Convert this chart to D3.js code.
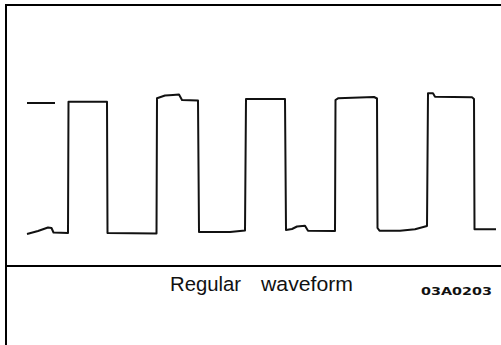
<!DOCTYPE html>
<html>
<head>
<meta charset="utf-8">
<script src="https://cdn.jsdelivr.net/npm/d3@7"></script>
<style>
    html, body { margin: 0; padding: 0; background: #fff; }
    #chart { width: 501px; height: 345px; }
</style>
</head>
<body>
<div id="chart"></div>
<script>
let markerTime = [0.1, 2.9];
let markerLevel = [13.0, 13.0];

let waveTime = [0.1, 1.2, 2.2, 2.55, 2.75, 4.2, 4.25, 8.1, 8.15, 13.05, 13.1, 13.9, 14.7, 15.3, 15.6, 17.2, 17.3, 20.4, 21.9, 22.0,
    25.9, 26.0, 26.6, 27.1, 27.9, 28.2, 30.9, 30.95, 31.2, 34.8, 35.1, 35.15, 35.35, 37.4, 38.9, 40.1, 40.2, 40.7, 40.9, 44.6,
    44.8, 44.85, 47.0];
let waveLevel = [-0.1, 0.2, 0.55, 0.5, 0.05, 0.0, 13.13, 13.13, 0.0, -0.05, 13.47, 13.75, 13.8, 13.85, 13.3, 13.25, 0.1, 0.1, 0.25, 13.4,
    13.4, 0.3, 0.4, 0.65, 0.73, 0.23, 0.2, 13.3, 13.47, 13.6, 13.45, 0.5, 0.23, 0.23, 0.37, 0.7, 13.97, 13.97, 13.63, 13.57,
    13.4, 0.37, 0.37];

let caption = ['Regular', 'waveform'];
let figureCode = '03A0203';

//Tamaño
let width = 501, height = 345;

let svg = d3.select('#chart')
    .append('svg')
        .attr('width', width)
        .attr('height', height);

let x = d3.scaleLinear()
    .domain([0, 47])
    .range([26, 496]);

let y = d3.scaleLinear()
    .domain([0, 13.5])
    .range([233, 98]);

//Marco
svg.append('line')
    .attr('x1', 5).attr('x2', width)
    .attr('y1', 5).attr('y2', 5)
    .attr('stroke', '#000').attr('stroke-width', 2);

svg.append('line')
    .attr('x1', 6).attr('x2', 6)
    .attr('y1', 4).attr('y2', height)
    .attr('stroke', '#000').attr('stroke-width', 2);

svg.append('line')
    .attr('x1', 6).attr('x2', width)
    .attr('y1', 266).attr('y2', 266)
    .attr('stroke', '#000').attr('stroke-width', 2);

//Trazo
let line = d3.line()
    .x(function(d) { return x(d[0]); })
    .y(function(d) { return y(d[1]); });

let marker = markerTime.map(function(t, i) { return [t, markerLevel[i]]; });
let wave = waveTime.map(function(t, i) { return [t, waveLevel[i]]; });

[marker, wave].forEach(function(pts) {
    svg.append('path')
        .datum(pts)
        .attr('d', line)
        .attr('fill', 'none')
        .attr('stroke', '#111')
        .attr('stroke-width', 2)
        .attr('stroke-linejoin', 'round');
});

//Textos
let label = svg.append('text')
    .attr('y', 291)
    .attr('font-family', 'Liberation Sans, Arial, sans-serif')
    .attr('font-size', 20.5)
    .attr('fill', '#111');

label.append('tspan').attr('x', 170).attr('textLength', 71).attr('lengthAdjust', 'spacingAndGlyphs').text(caption[0]);
label.append('tspan').attr('x', 261).attr('textLength', 92).attr('lengthAdjust', 'spacingAndGlyphs').text(caption[1]);

svg.append('text')
    .attr('x', 421)
    .attr('y', 295)
    .attr('font-family', 'DejaVu Sans, sans-serif')
    .attr('font-weight', 'bold')
    .attr('font-size', 10.5)
    .attr('textLength', 71)
    .attr('lengthAdjust', 'spacingAndGlyphs')
    .attr('fill', '#111')
    .text(figureCode);
</script>
</body>
</html>
